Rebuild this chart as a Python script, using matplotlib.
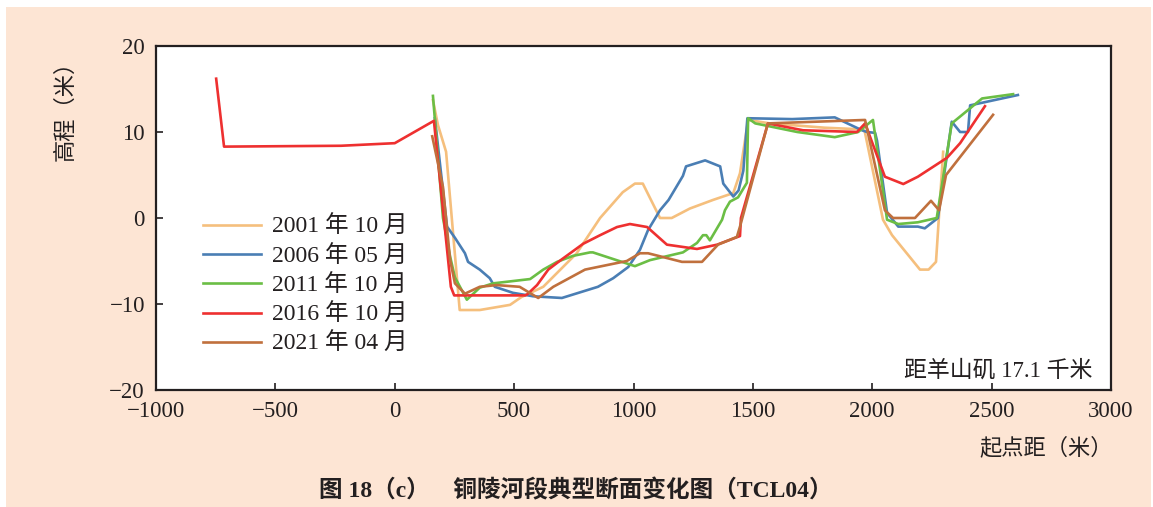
import matplotlib
matplotlib.use("Agg")
import matplotlib.pyplot as plt
from matplotlib.patches import Rectangle

# ---------------- data ----------------
x_2001 = [160, 181, 215, 272, 356, 483, 530, 622, 762, 860, 955, 1006, 1039, 1111, 1160,
          1236, 1333, 1418, 1446, 1480, 1571, 1800, 1961, 1969, 2045, 2083, 2200, 2236,
          2267, 2297]
y_2001 = [13.7, 10.8, 7.7, -10.7, -10.7, -10.1, -9.2, -8.0, -4.1, 0.0, 3.0, 4.0, 4.0, 0.0,
          0.0, 1.1, 2.1, 2.9, 5.2, 11.4, 11.0, 10.5, 10.3, 10.0, -0.2, -2.0, -6.0, -6.0,
          -5.1, 7.7]

x_2006 = [168, 219, 252, 294, 307, 356, 398, 419, 495, 579, 700, 851, 915, 978, 1027, 1061,
          1111, 1147, 1207, 1220, 1300, 1363, 1376, 1418, 1440, 1460, 1477, 1665, 1843,
          1957, 1978, 2012, 2020, 2062, 2109, 2191, 2220, 2275, 2333, 2368, 2401, 2410, 2610]
y_2006 = [11.6, -1.0, -2.3, -4.1, -5.1, -6.0, -7.0, -8.0, -8.7, -9.1, -9.3, -8.0, -7.0,
          -5.7, -3.7, -1.4, 0.9, 2.1, 4.9, 6.0, 6.7, 6.0, 4.0, 2.5, 3.2, 5.5, 11.6, 11.5,
          11.7, 10.2, 10.0, 9.9, 9.0, 0.6, -1.0, -1.0, -1.2, 0.0, 11.2, 10.0, 10.0, 13.1, 14.3]

x_2011 = [160, 202, 232, 252, 302, 356, 412, 567, 622, 680, 747, 818, 830, 1006, 1069, 1207,
          1266, 1291, 1305, 1320, 1371, 1383, 1404, 1438, 1475, 1480, 1510, 1686, 1843,
          1941, 2003, 2062, 2109, 2191, 2270, 2333, 2460, 2590]
y_2011 = [14.2, 0.0, -4.5, -6.9, -9.5, -8.1, -7.6, -7.1, -6.0, -5.1, -4.4, -4.0, -4.0, -5.6,
          -4.9, -4.0, -2.9, -2.0, -2.0, -2.6, -0.2, 0.9, 1.9, 2.4, 4.1, 11.6, 11.0, 10.0,
          9.4, 10.0, 11.4, -0.2, -0.7, -0.5, 0.0, 11.0, 13.9, 14.4]

x_2016 = [-748, -715, -225, 0, 164, 235, 249, 546, 554, 596, 643, 700, 789, 860, 931, 985,
          1057, 1140, 1266, 1350, 1446, 1450, 1563, 1710, 1936, 1970, 2053, 2130, 2191,
          2313, 2368, 2472]
y_2016 = [16.2, 8.3, 8.4, 8.7, 11.3, -8.0, -9.0, -9.0, -8.9, -7.8, -6.0, -4.8, -3.0, -2.0,
          -1.05, -0.7, -1.05, -3.1, -3.6, -3.1, -2.1, 0.0, 11.0, 10.2, 10.0, 11.0, 4.8,
          3.95, 4.8, 7.0, 8.7, 13.0]

x_2021 = [157, 202, 232, 252, 294, 356, 427, 523, 601, 664, 797, 972, 1027, 1061, 1203,
          1287, 1354, 1433, 1446, 1563, 1970, 2053, 2087, 2179, 2246, 2280, 2309, 2506]
y_2021 = [9.5, 3.6, -4.9, -7.6, -8.8, -8.0, -7.8, -8.0, -9.3, -8.0, -6.0, -5.0, -4.1, -4.1,
          -5.1, -5.1, -3.1, -2.2, -1.0, 11.0, 11.4, 0.9, 0.0, 0.0, 2.0, 0.9, 5.0, 12.0]

labels = ["2001 年 10 月", "2006 年 05 月", "2011 年 10 月", "2016 年 10 月", "2021 年 04 月"]
colors = ["#F5BF7D", "#4A7EB4", "#6BBE45", "#EE3030", "#C0703D"]

x_ticks = [-1000, -500, 0, 500, 1000, 1500, 2000, 2500, 3000]
y_ticks = [-20, -10, 0, 10, 20]

# ---------------- style ----------------
FONT = ["Liberation Serif", "Noto Sans CJK SC", "DejaVu Sans"]
CJK = ["Noto Sans CJK SC", "DejaVu Sans"]
plt.rcParams["font.family"] = FONT

W, H = 1153, 507
fig = plt.figure(figsize=(W / 100, H / 100), dpi=100)
fig.patch.set_facecolor("white")
fig.patches.append(Rectangle((6 / W, 0), (1151 - 6) / W, 1 - 7 / H,
                             transform=fig.transFigure, facecolor="#FDE5D4",
                             edgecolor="none", zorder=-10))

ax = fig.add_axes([156 / W, 1 - 390 / H, (1111 - 156) / W, (390 - 46) / H])
ax.set_facecolor("white")

series = [(x_2001, y_2001), (x_2006, y_2006), (x_2011, y_2011),
          (x_2016, y_2016), (x_2021, y_2021)]
for (xs, ys), lab, c in zip(series, labels, colors):
    ax.plot(xs, ys, color=c, lw=1.9, label=lab, solid_joinstyle="round")

ax.set_xlim(-1000, 3000)
ax.set_ylim(-20, 20)
ax.set_xticks(x_ticks)
ax.set_yticks(y_ticks)
ax.tick_params(axis="both", direction="in", length=5, width=1.2, labelsize=16.5,
               colors="#231F20", top=False, right=False)
ax.tick_params(axis="x", pad=8)
ax.tick_params(axis="y", pad=8)
for s in ax.spines.values():
    s.set_linewidth(1.6)
    s.set_color("#231F20")

leg = ax.legend(loc="upper left", bbox_to_anchor=(0.049, 0.505), frameon=False,
                prop={"family": FONT, "size": 17}, handlelength=2.45, handletextpad=0.5,
                labelspacing=0.3, borderpad=0, borderaxespad=0)
for t in leg.get_texts():
    t.set_color("#231F20")

ax.text(0.981, 0.055, "距羊山矶 17.1 千米", transform=ax.transAxes, ha="right",
        va="center", fontsize=16.5, color="#231F20")

fig.text(1113 / W, 1 - 448 / H, "起点距（米）", ha="right", va="center",
         fontsize=16, color="#231F20", family=CJK)
fig.text(65 / W, 1 - 105 / H, "高程（米）", ha="center", va="center", rotation=90,
         fontsize=16, color="#231F20", family=CJK)

fig.text(576 / W, 1 - 491 / H, "图 18（c）　铜陵河段典型断面变化图（TCL04）",
         ha="center", va="center", fontsize=17, fontweight="bold",
         color="#231F20", family=FONT)

fig.savefig("out.png", dpi=100)
